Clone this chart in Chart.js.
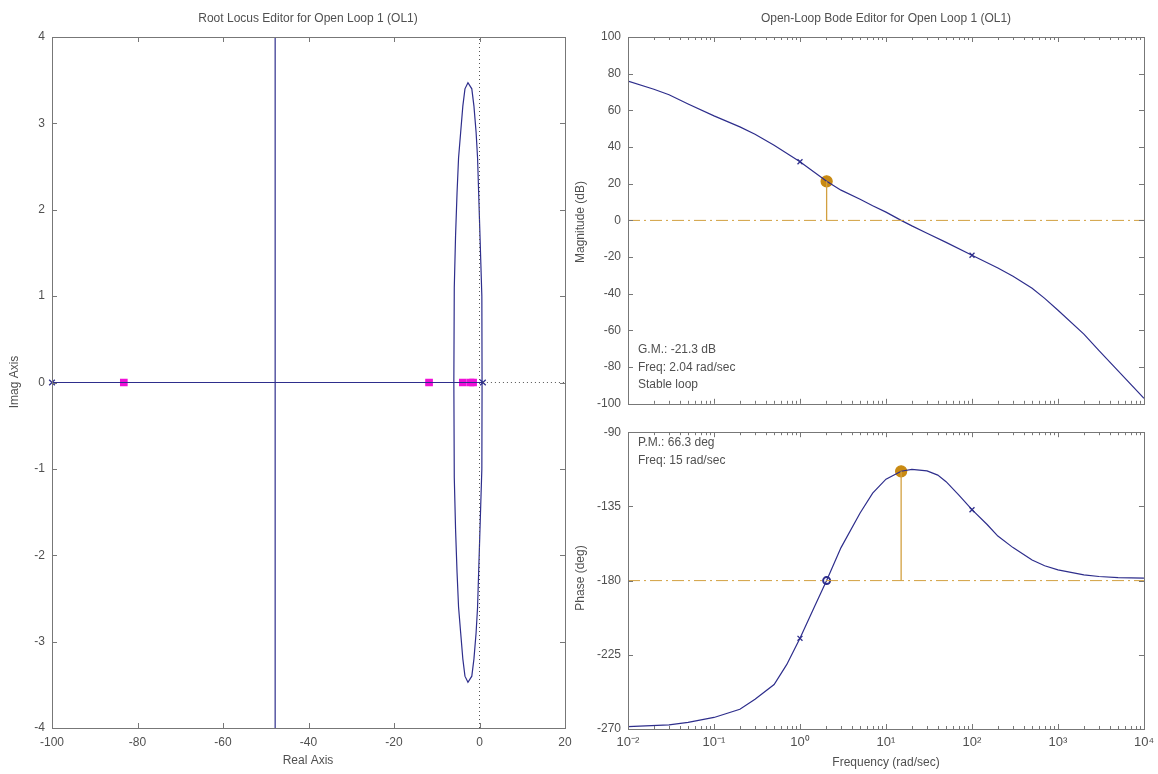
<!DOCTYPE html>
<html><head><meta charset="utf-8">
<script src="https://cdn.jsdelivr.net/npm/chart.js@4"></script>
<style>
html,body{margin:0;padding:0;background:#fff;width:1158px;height:774px;overflow:hidden}
canvas{position:absolute}
</style></head><body>
<canvas id="rl" width="579" height="774" style="left:0;top:0"></canvas>
<canvas id="mag" width="588" height="418" style="left:570px;top:0"></canvas>
<canvas id="ph" width="588" height="356" style="left:572px;top:418px"></canvas>
<script>
// ---------- Root locus data ----------
const realTicks = [-100, -80, -60, -40, -20, 0, 20];
const imagTicks = [-4, -3, -2, -1, 0, 1, 2, 3, 4];
const realBranchRe = [-100, 0.8];
const realBranchIm = [0, 0];
const vertBranchRe = [-47.8, -47.8];
const vertBranchIm = [-4.6, 4.6];
const loopBranchRe = [0.6, 0.55, 0.3, 0.05, -0.2, -0.45, -0.8, -1.3, -1.8, -2.7, -3.4, -3.9, -4.4, -4.9, -5.25, -5.6, -5.9, -6.0,
                      -5.9, -5.6, -5.25, -4.9, -4.4, -3.9, -3.4, -2.7, -1.8, -1.3, -0.8, -0.45, -0.2, 0.05, 0.3, 0.55, 0.6];
const loopBranchIm = [0, 1.0, 1.4, 1.8, 2.2, 2.6, 2.9, 3.2, 3.4, 3.47, 3.4, 3.2, 2.9, 2.6, 2.2, 1.7, 1.1, 0,
                      -1.1, -1.7, -2.2, -2.6, -2.9, -3.2, -3.4, -3.47, -3.4, -3.2, -2.9, -2.6, -2.2, -1.8, -1.4, -1.0, 0];
const olPoleRe = [-100, 0.8];
const olPoleIm = [0, 0];
const clPoleRe = [-83.2, -11.8, -3.9, -2.1, -1.5];
const clPoleIm = [0, 0, 0, 0, 0];
const imagAxisRe = [0, 0];
const imagAxisIm = [-4, 4];
const realAxisRe = [0.8, 20];
const realAxisIm = [0, 0];

// ---------- Bode data ----------
const freqDecades = [0.01, 0.1, 1, 10, 100, 1000, 10000];
const freqTickLabels = ['10\u207B\u00B2', '10\u207B\u00B9', '10\u2070', '10\u00B9', '10\u00B2', '10\u00B3', '10\u2074'];
const magTicks = [-100, -80, -60, -40, -20, 0, 20, 40, 60, 80, 100];
const phaseTicks = [-270, -225, -180, -135, -90];
const freq = [0.01, 0.02, 0.03, 0.05, 0.1, 0.2, 0.3, 0.5, 1, 2.04, 3, 5, 7, 10, 15, 20, 30, 50, 100, 200, 300, 500, 700, 1000, 2000, 3000, 5000, 10000];
const magDb = [76, 71.5, 68.5, 63.5, 57, 51, 47, 41, 32, 21.3, 16.5, 11.5, 8, 4.5, 0, -3, -7, -12, -19, -26, -30.5, -37, -42.5, -49, -62, -71, -82, -97];
const phFreq = [0.01, 0.03, 0.05, 0.1, 0.2, 0.3, 0.5, 0.7, 1, 1.5, 2.04, 3, 5, 7, 10, 15, 20, 30, 40, 50, 70, 100, 150, 200, 300, 500, 700, 1000, 2000, 3000, 5000, 10000];
const phaseDeg = [-268.5, -267.5, -266, -263, -258, -252, -243, -231, -215, -195, -180, -160, -139, -127, -118.5, -113.7, -112.5, -113.5, -116, -120, -128, -137, -146, -153, -160, -167.5, -171, -173.5, -176.5, -177.5, -178.2, -178.5];
const poleMarkFreq = [1, 100];
const poleMarkMag = [32, -19];
const poleMarkPhase = [-215, -137];
const gmFreq = [2.04];
const gmLoopGain = [21.3];
const pmFreq = [15];
const pmPhase = [-113.7];
const refMag = [0, 0];
const refPhase = [-180, -180];
const refFreq = [0.01, 10000];

const pts = (xs, ys) => xs.map((x, i) => ({x, y: ys[i]}));

const BLUE = '#2e2e8c';
const ORANGE = '#c98a12';
const ORANGE_L = '#d2a040';
const TXT = '#505050';
const FONT = 'Liberation Sans, Arial, sans-serif';
Chart.defaults.font.family = FONT;
Chart.defaults.font.size = 12;
Chart.defaults.color = TXT;

const minorFreq = [];
freqDecades.slice(0, -1).forEach(d => { for (let k = 2; k <= 9; k++) minorFreq.push(k * d); });

const framePlugin = {
  id: 'frame',
  afterDraw(chart, args, opts) {
    const {ctx, chartArea: a, scales} = chart;
    ctx.save();
    ctx.strokeStyle = '#777';
    ctx.lineWidth = 1;
    ctx.strokeRect(Math.round(a.left) + 0.5, Math.round(a.top) + 0.5, Math.round(a.right - a.left), Math.round(a.bottom - a.top));
    ctx.beginPath();
    const xs = scales.x, ys = scales.y;
    const L = 5, S = 3;
    xs.ticks.forEach(t => {
      const p = Math.round(xs.getPixelForValue(t.value)) + 0.5;
      ctx.moveTo(p, a.bottom); ctx.lineTo(p, a.bottom - L);
      ctx.moveTo(p, a.top); ctx.lineTo(p, a.top + L);
    });
    (opts.minor || []).forEach(v => {
      const p = Math.round(xs.getPixelForValue(v)) + 0.5;
      ctx.moveTo(p, a.bottom); ctx.lineTo(p, a.bottom - S);
      ctx.moveTo(p, a.top); ctx.lineTo(p, a.top + S);
    });
    ys.ticks.forEach(t => {
      const p = Math.round(ys.getPixelForValue(t.value)) + 0.5;
      ctx.moveTo(a.left, p); ctx.lineTo(a.left + L, p);
      ctx.moveTo(a.right, p); ctx.lineTo(a.right - L, p);
    });
    ctx.stroke();
    ctx.fillStyle = TXT;
    ctx.textBaseline = 'middle';
    (opts.texts || []).forEach(t => {
      ctx.save();
      ctx.font = (t.size || 12) + 'px ' + FONT;
      ctx.translate(t.x, t.y);
      if (t.rot) ctx.rotate(t.rot);
      ctx.textAlign = t.align || 'center';
      ctx.fillText(t.text, 0, 0);
      ctx.restore();
    });
    ctx.restore();
  }
};

const fixW = w => (s) => { s.width = w; };
const fixH = h => (s) => { s.height = h; };

function lineDs(data, color, extra) {
  return Object.assign({data, showLine: true, borderColor: color, borderWidth: 1.2, pointRadius: 0, fill: false, tension: 0}, extra || {});
}
function markDs(data, style, color, r, extra) {
  return Object.assign({data, showLine: false, pointStyle: style, pointRadius: r, pointBorderColor: color, pointBackgroundColor: color, pointBorderWidth: 1.3, clip: false}, extra || {});
}

const common = {
  responsive: false, animation: false, devicePixelRatio: 1,
  plugins: {legend: {display: false}, tooltip: {enabled: false}}
};

// ---------- Root locus chart ----------
new Chart(document.getElementById('rl'), {
  type: 'scatter',
  data: {datasets: [
    lineDs(pts(imagAxisRe, imagAxisIm), '#555', {borderDash: [1, 3], borderWidth: 1}),
    lineDs(pts(realAxisRe, realAxisIm), '#555', {borderDash: [1, 3], borderWidth: 1}),
    lineDs(pts(realBranchRe, realBranchIm), BLUE),
    lineDs(pts(vertBranchRe, vertBranchIm), BLUE),
    lineDs(pts(loopBranchRe, loopBranchIm), BLUE),
    markDs(pts(olPoleRe, olPoleIm), 'crossRot', BLUE, 4),
    markDs(pts(clPoleRe, clPoleIm), 'rect', '#f010d8', 4.5)
  ]},
  options: Object.assign({}, common, {
    layout: {padding: {top: 37, right: 14, left: 0, bottom: 0}},
    scales: {
      x: {type: 'linear', min: -100, max: 20, grid: {display: false, drawTicks: false}, border: {display: false},
          afterBuildTicks: s => { s.ticks = realTicks.map(v => ({value: v})); },
          ticks: {padding: 7, maxRotation: 0, autoSkip: false}, afterFit: fixH(46)},
      y: {type: 'linear', min: -4, max: 4, grid: {display: false, drawTicks: false}, border: {display: false},
          afterBuildTicks: s => { s.ticks = imagTicks.map(v => ({value: v})); },
          ticks: {padding: 7, autoSkip: false}, afterFit: fixW(52)}
    },
    plugins: Object.assign({}, common.plugins, {
      frame: {texts: [
        {text: 'Root Locus Editor for Open Loop 1 (OL1)', x: 308, y: 19},
        {text: 'Real Axis', x: 308, y: 761},
        {text: 'Imag Axis', x: 15, y: 382, rot: -Math.PI / 2}
      ]}
    })
  }),
  plugins: [framePlugin]
});

// ---------- Magnitude chart ----------
new Chart(document.getElementById('mag'), {
  type: 'scatter',
  data: {datasets: [
    lineDs(pts(refFreq, refMag), ORANGE_L, {borderDash: [12, 4, 2, 4], borderWidth: 1}),
    lineDs([{x: gmFreq[0], y: 0}, {x: gmFreq[0], y: gmLoopGain[0]}], ORANGE_L, {borderWidth: 1.3}),
    lineDs(pts(freq, magDb), BLUE),
    markDs(pts(poleMarkFreq, poleMarkMag), 'crossRot', BLUE, 3.5),
    markDs(pts(gmFreq, gmLoopGain), 'circle', ORANGE, 5.5)
  ]},
  options: Object.assign({}, common, {
    layout: {padding: {top: 37, right: 14, left: 0, bottom: 11}},
    scales: {
      x: {type: 'logarithmic', min: 0.01, max: 10000, grid: {display: false, drawTicks: false}, border: {display: false},
          afterBuildTicks: s => { s.ticks = freqDecades.map(v => ({value: v})); },
          ticks: {display: false}, afterFit: fixH(0)},
      y: {type: 'linear', min: -100, max: 100, grid: {display: false, drawTicks: false}, border: {display: false},
          afterBuildTicks: s => { s.ticks = magTicks.map(v => ({value: v})); },
          ticks: {padding: 7, autoSkip: false}, afterFit: fixW(58)}
    },
    plugins: Object.assign({}, common.plugins, {
      frame: {minor: minorFreq, texts: [
        {text: 'Open-Loop Bode Editor for Open Loop 1 (OL1)', x: 316, y: 19},
        {text: 'Magnitude (dB)', x: 11, y: 222, rot: -Math.PI / 2},
        {text: 'G.M.: -21.3 dB', x: 68, y: 350, align: 'left'},
        {text: 'Freq: 2.04 rad/sec', x: 68, y: 368, align: 'left'},
        {text: 'Stable loop', x: 68, y: 385, align: 'left'}
      ]}
    })
  }),
  plugins: [framePlugin]
});

// ---------- Phase chart ----------
new Chart(document.getElementById('ph'), {
  type: 'scatter',
  data: {datasets: [
    lineDs(pts(refFreq, refPhase), ORANGE_L, {borderDash: [12, 4, 2, 4], borderWidth: 1}),
    lineDs([{x: pmFreq[0], y: -180}, {x: pmFreq[0], y: pmPhase[0]}], ORANGE_L, {borderWidth: 1.3}),
    lineDs(pts(phFreq, phaseDeg), BLUE),
    markDs(pts(poleMarkFreq, poleMarkPhase), 'crossRot', BLUE, 3.5),
    markDs([{x: gmFreq[0], y: -180}], 'circle', BLUE, 3.5, {pointBackgroundColor: 'rgba(255,255,255,0)', pointBorderWidth: 2}),
    markDs(pts(pmFreq, pmPhase), 'circle', ORANGE, 5.5)
  ]},
  options: Object.assign({}, common, {
    layout: {padding: {top: 10, right: 12, left: 0, bottom: 0}},
    scales: {
      x: {type: 'logarithmic', min: 0.01, max: 10000, grid: {display: false, drawTicks: false}, border: {display: false},
          afterBuildTicks: s => { s.ticks = freqDecades.map(v => ({value: v})); },
          ticks: {padding: 6, maxRotation: 0, autoSkip: false, font: {size: 13},
                  callback: (v) => { const i = freqDecades.indexOf(v); return i >= 0 ? freqTickLabels[i] : ''; }},
          afterFit: fixH(45)},
      y: {type: 'linear', min: -270, max: -90, grid: {display: false, drawTicks: false}, border: {display: false},
          afterBuildTicks: s => { s.ticks = phaseTicks.map(v => ({value: v})); },
          ticks: {padding: 7, autoSkip: false}, afterFit: fixW(56)}
    },
    plugins: Object.assign({}, common.plugins, {
      frame: {minor: minorFreq, texts: [
        {text: 'Phase (deg)', x: 9, y: 160, rot: -Math.PI / 2},
        {text: 'P.M.: 66.3 deg', x: 66, y: 25, align: 'left'},
        {text: 'Freq: 15 rad/sec', x: 66, y: 43, align: 'left'},
        {text: 'Frequency (rad/sec)', x: 314, y: 345}
      ]}
    })
  }),
  plugins: [framePlugin]
});
</script>
</body></html>
